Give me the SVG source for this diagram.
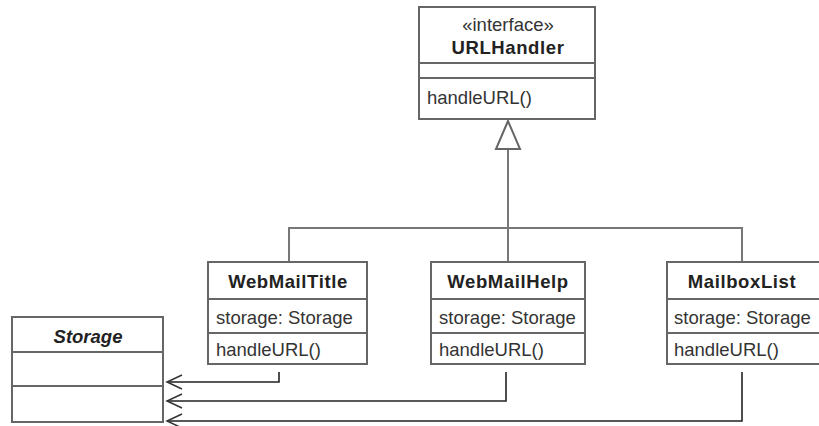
<svg xmlns="http://www.w3.org/2000/svg" width="819" height="426" viewBox="0 0 819 426">
<defs>
<style>
.box{fill:#fff;stroke:#666;stroke-width:2}
.sep{stroke:#666;stroke-width:2}
.t{font-family:"Liberation Sans",Arial,sans-serif;font-size:18.5px;fill:#333}
.b{font-weight:bold;letter-spacing:0.6px;text-anchor:middle;fill:#222}
.gen{fill:none;stroke:#777;stroke-width:2}
.dep{fill:none;stroke:#222;stroke-width:1.6}
</style>
<marker id="open" viewBox="-17 -9 19 18" refX="0" refY="0" markerWidth="19" markerHeight="18" markerUnits="userSpaceOnUse" orient="auto" overflow="visible">
<path d="M-15,-7 L0,0 L-15,7" fill="none" stroke="#333" stroke-width="1.5"/>
</marker>
</defs>
<rect width="819" height="426" fill="#fff"/>
<g id="connectors">
<path class="gen" d="M508,150 V262 M289,262 V228 H742 V262"/>
<polygon points="508,121 496,149 520,149" fill="#fff" stroke="#666" stroke-width="2"/>
<path class="dep" d="M279,372 V382 H167" marker-end="url(#open)"/>
<path class="dep" d="M506,372 V401 H167" marker-end="url(#open)"/>
<path class="dep" d="M742,372 V421 H167" marker-end="url(#open)"/>
</g>
<g id="URLHandler">
<rect class="box" x="419" y="7" width="176" height="112"/>
<line class="sep" x1="419" y1="63" x2="595" y2="63"/>
<line class="sep" x1="419" y1="78" x2="595" y2="78"/>
<text class="t" x="508" y="31" text-anchor="middle">«interface»</text>
<text class="t b" x="508" y="54">URLHandler</text>
<text class="t" x="427" y="104">handleURL()</text>
</g>
<g id="WebMailTitle">
<rect class="box" x="208" y="262" width="159" height="102"/>
<line class="sep" x1="208" y1="299" x2="367" y2="299"/>
<line class="sep" x1="208" y1="333" x2="367" y2="333"/>
<text class="t b" x="288" y="288">WebMailTitle</text>
<text class="t" x="216" y="324">storage: Storage</text>
<text class="t" x="216" y="356">handleURL()</text>
</g>
<g id="WebMailHelp">
<rect class="box" x="431" y="262" width="154" height="102"/>
<line class="sep" x1="431" y1="299" x2="585" y2="299"/>
<line class="sep" x1="431" y1="333" x2="585" y2="333"/>
<text class="t b" x="508" y="288">WebMailHelp</text>
<text class="t" x="439" y="324">storage: Storage</text>
<text class="t" x="439" y="356">handleURL()</text>
</g>
<g id="MailboxList">
<rect class="box" x="667" y="262" width="160" height="102"/>
<line class="sep" x1="667" y1="299" x2="827" y2="299"/>
<line class="sep" x1="667" y1="333" x2="827" y2="333"/>
<text class="t b" x="742" y="288">MailboxList</text>
<text class="t" x="674" y="324">storage: Storage</text>
<text class="t" x="674" y="356">handleURL()</text>
</g>
<g id="Storage">
<rect class="box" x="12" y="317" width="151" height="105"/>
<line class="sep" x1="12" y1="352" x2="163" y2="352"/>
<line class="sep" x1="12" y1="386" x2="163" y2="386"/>
<text class="t b" x="88" y="343" font-style="italic" style="letter-spacing:0">Storage</text>
</g>
</svg>
